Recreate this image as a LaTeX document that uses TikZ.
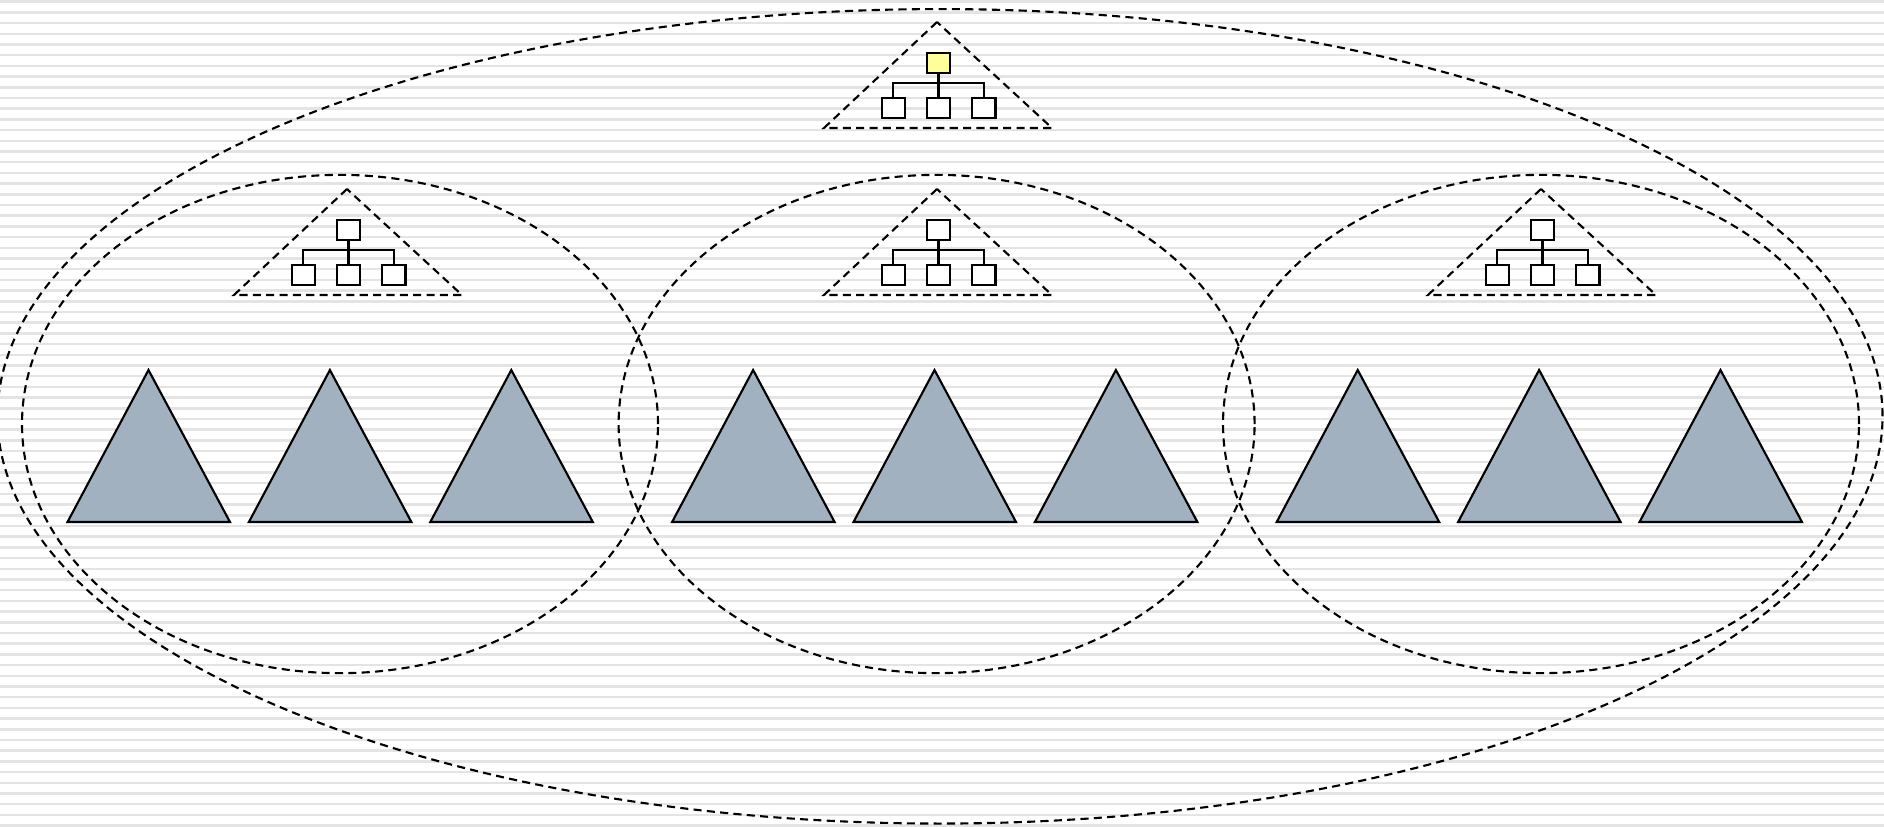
\documentclass[tikz,border=0pt]{standalone}
\usetikzlibrary{positioning}
\definecolor{SlateGrey}{HTML}{A2B1C0}
\definecolor{PaleYellow}{HTML}{FFFF99}
\definecolor{StripeGrey}{HTML}{E4E4E4}
\begin{document}
\begin{tikzpicture}[x=0.01cm, y=-0.01cm,
  box/.style={draw, fill=white, line width=0.6pt, minimum width=0.23cm, minimum height=0.2cm, inner sep=0pt},
  dashline/.style={line width=0.6pt, dash pattern=on 2.3pt off 1.5pt},
  treeline/.style={line width=0.6pt},
  bigtri/.style={draw, fill=SlateGrey, line width=0.6pt}]
  \useasboundingbox (0,0) rectangle (1884,826);
  % stripes
  \foreach \k in {0,...,77}
    \draw[StripeGrey, line width=0.7pt] (0,1.7+10.7*\k) -- (1884,1.7+10.7*\k);
  % ellipses
  \draw[dashline] (940,416.3) ellipse [x radius=9.42cm, y radius=4.07cm];
  \foreach \cx in {340,936.6,1541}
    \draw[dashline] (\cx,424) ellipse [x radius=3.178cm, y radius=2.49cm];
  % small trees
  \foreach \n/\ax/\ay/\col in {top/937/22/PaleYellow, left/347/189/white, mid/937/189/white, right/1541/189/white} {
    \draw[dashline] (\ax,\ay) -- (\ax-113,\ay+106) -- (\ax+115,\ay+106) -- cycle;
    \node[box, fill=\col] (\n-root) at (\ax+1.5,\ay+41) {};
    \node[box] (\n-c2) at (\ax+1.5,\ay+86) {};
    \node[box, left=0.203cm of \n-c2] (\n-c1) {};
    \node[box, right=0.203cm of \n-c2] (\n-c3) {};
    \coordinate (\n-bar) at (\ax+1.5,\ay+61);
    \draw[treeline] (\n-root.south) -- (\n-c2.north);
    \draw[treeline] (\n-c1.north) |- (\n-bar) -| (\n-c3.north);
  }
  % subtrees
  \foreach \g in {0,1,2}
    \foreach \i in {0,1,2}
      \draw[bigtri] (148.5+604.6*\g+181.4*\i,370) -- ++(-81,152) -- ++(162.5,0) -- cycle;
\end{tikzpicture}
\end{document}
